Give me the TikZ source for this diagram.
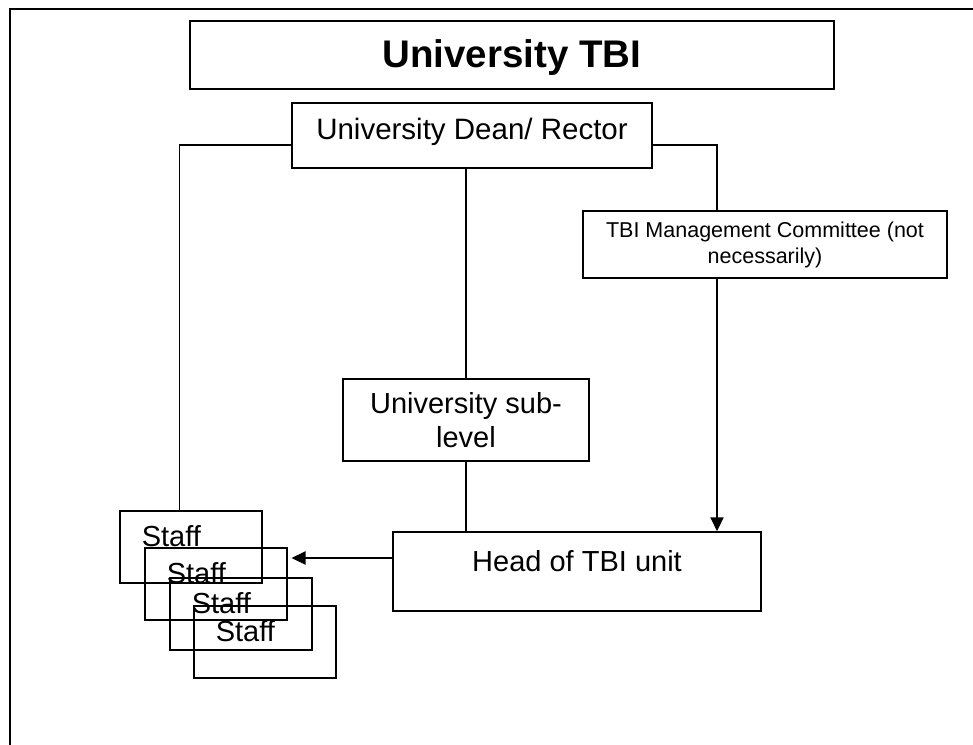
\documentclass[tikz,border=0pt]{standalone}
\usepackage{fontspec}
\setmainfont{Liberation Sans}
\usetikzlibrary{arrows.meta,calc}
\begin{document}
\begin{tikzpicture}[x=1pt,y=-1pt,
  boxstyle/.style={draw=black, line width=1.5pt, rectangle, inner sep=0pt, align=center},
  staffbox/.style={draw=black, line width=1.5pt, rectangle, anchor=north west, inner xsep=22pt, inner ysep=0pt,
    text width=98pt, align=left, text height=36pt, text depth=36pt, font=\fontsize{29}{33}\selectfont},
  link/.style={draw=black, line width=1.3pt},
  arrowlink/.style={draw=black, line width=2.2pt, -{Triangle[length=14pt,width=13pt]}},
]
\useasboundingbox (0,0) rectangle (973,744);
\fill[white] (0,0) rectangle (973,744);
\draw[line width=2pt] (10,9) rectangle (1000,800);

\node[boxstyle, anchor=base, minimum width=644pt, text height=46pt, text depth=22pt,
  font=\fontsize{38.5}{44}\selectfont\bfseries] (title) at (512,67) {University TBI};
\node[boxstyle, anchor=base, minimum width=360pt, text height=36pt, text depth=29pt,
  font=\fontsize{29.5}{33}\selectfont] (dean) at (472,139) {University Dean/ Rector};
\node[boxstyle, minimum width=364pt, minimum height=67pt,
  font=\fontsize{21.5}{26}\selectfont] (comm) at (765,244.5) {TBI Management Committee (not\\necessarily)};
\node[boxstyle, minimum width=246pt, minimum height=82pt,
  font=\fontsize{29}{34}\selectfont] (sub) at (466,420) {University sub-\\level};
\node[boxstyle, anchor=base, minimum width=368pt, text height=39pt, text depth=40pt,
  font=\fontsize{29}{33}\selectfont] (head) at (577,571) {Head of TBI unit};

\node[staffbox] (staff1) at (119,510) {Staff};
\node[staffbox] (staff2) at (144,547) {Staff};
\node[staffbox] (staff3) at (169,577) {Staff};
\node[staffbox] (staff4) at (193,605) {Staff};

\draw[link] ([yshift=-9.5pt]dean.west) -| ([xshift=-11pt]staff1.north);
\draw[link] ([yshift=-9.5pt]dean.east) -| ([xshift=-48pt]comm.north);
\draw[arrowlink] ([xshift=-48pt]comm.south) -- ([xshift=-48pt]comm.south |- head.north);
\draw[link] (sub.north |- dean.south) -- (sub.north);
\draw[link] (sub.south) -- (sub.south |- head.north);
\draw[arrowlink, shorten >=4pt] ([yshift=13.5pt]head.west) -- ([yshift=13.5pt]head.west -| staff2.east);
\end{tikzpicture}
\end{document}
